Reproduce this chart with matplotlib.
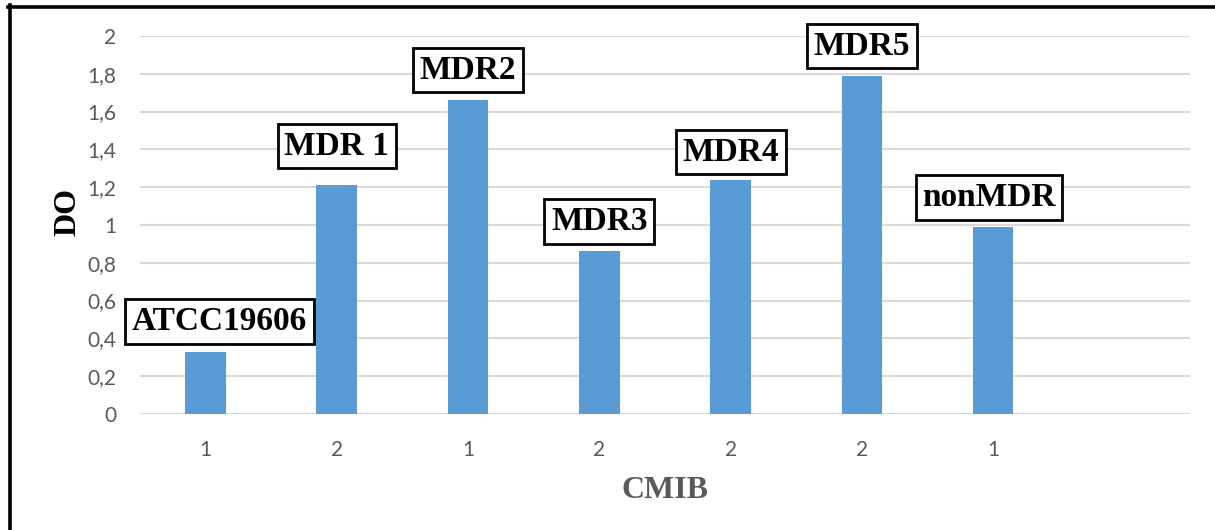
import matplotlib
matplotlib.use("Agg")
import matplotlib.pyplot as plt
from matplotlib.lines import Line2D
from matplotlib.ticker import FuncFormatter

# optical density per strain
strains = ["ATCC19606", "MDR 1", "MDR2", "MDR3", "MDR4", "MDR5", "nonMDR"]
do_values = [0.33, 1.21, 1.66, 0.86, 1.24, 1.79, 0.99]
cmib_labels = ["1", "2", "1", "2", "2", "2", "1", ""]

# label box offsets (points) above each bar
label_dx = [10, 0, 0, 0, 0, 0, -3]
label_dy = [10.5, 17, 10.5, 10.5, 8.5, 10, 10]

bar_color = "#5B9BD5"
grid_color = "#D9D9D9"
text_gray = "#595959"

fig = plt.figure(figsize=(12.15, 5.3), dpi=100)
ax = fig.add_axes([0.1152, 0.2189, 0.8642, 0.7132])

x = list(range(len(do_values)))
ax.bar(x, do_values, width=0.31, color=bar_color, zorder=2)

ax.set_xlim(-0.5, len(cmib_labels) - 0.5)
ax.set_ylim(0, 2)
ax.set_yticks([i * 0.2 for i in range(11)])
ax.yaxis.set_major_formatter(FuncFormatter(lambda v, p: ("%g" % round(v, 1)).replace(".", ",")))
ax.set_xticks(range(len(cmib_labels)))
ax.set_xticklabels(cmib_labels)

ax.grid(axis="y", color=grid_color, linewidth=1.5, zorder=0)
for s in ax.spines.values():
    s.set_visible(False)
ax.tick_params(length=0, labelsize=15, labelcolor=text_gray)
ax.tick_params(axis="y", pad=17)
ax.tick_params(axis="x", pad=19)
for lab in ax.get_xticklabels() + ax.get_yticklabels():
    lab.set_fontfamily("Lato")

for i, (name, v) in enumerate(zip(strains, do_values)):
    ax.annotate(name, xy=(i, v), xytext=(label_dx[i], label_dy[i]),
                textcoords="offset points", ha="center", va="bottom",
                fontsize=24, fontweight="bold", family="Liberation Serif",
                color="black", zorder=4,
                bbox=dict(boxstyle="square,pad=0.2", fc="white", ec="black", lw=2))

ax.set_ylabel("DO", fontsize=23, fontweight="bold", family="Liberation Serif", color="black")
ax.yaxis.set_label_coords(-0.0552, 0.534)
ax.set_xlabel("CMIB", fontsize=23, fontweight="bold", family="Liberation Serif", color=text_gray)
ax.xaxis.set_label_coords(0.5, -0.165)

# frame lines along top and left edge
fig.add_artist(Line2D([8 / 1215, 1], [1 - 6.5 / 530, 1 - 6.5 / 530],
                      color="black", linewidth=2.6, transform=fig.transFigure))
fig.add_artist(Line2D([9.5 / 1215, 9.5 / 1215], [0, 1 - 5 / 530],
                      color="black", linewidth=2.6, transform=fig.transFigure))

fig.savefig("out.png", dpi=100)
